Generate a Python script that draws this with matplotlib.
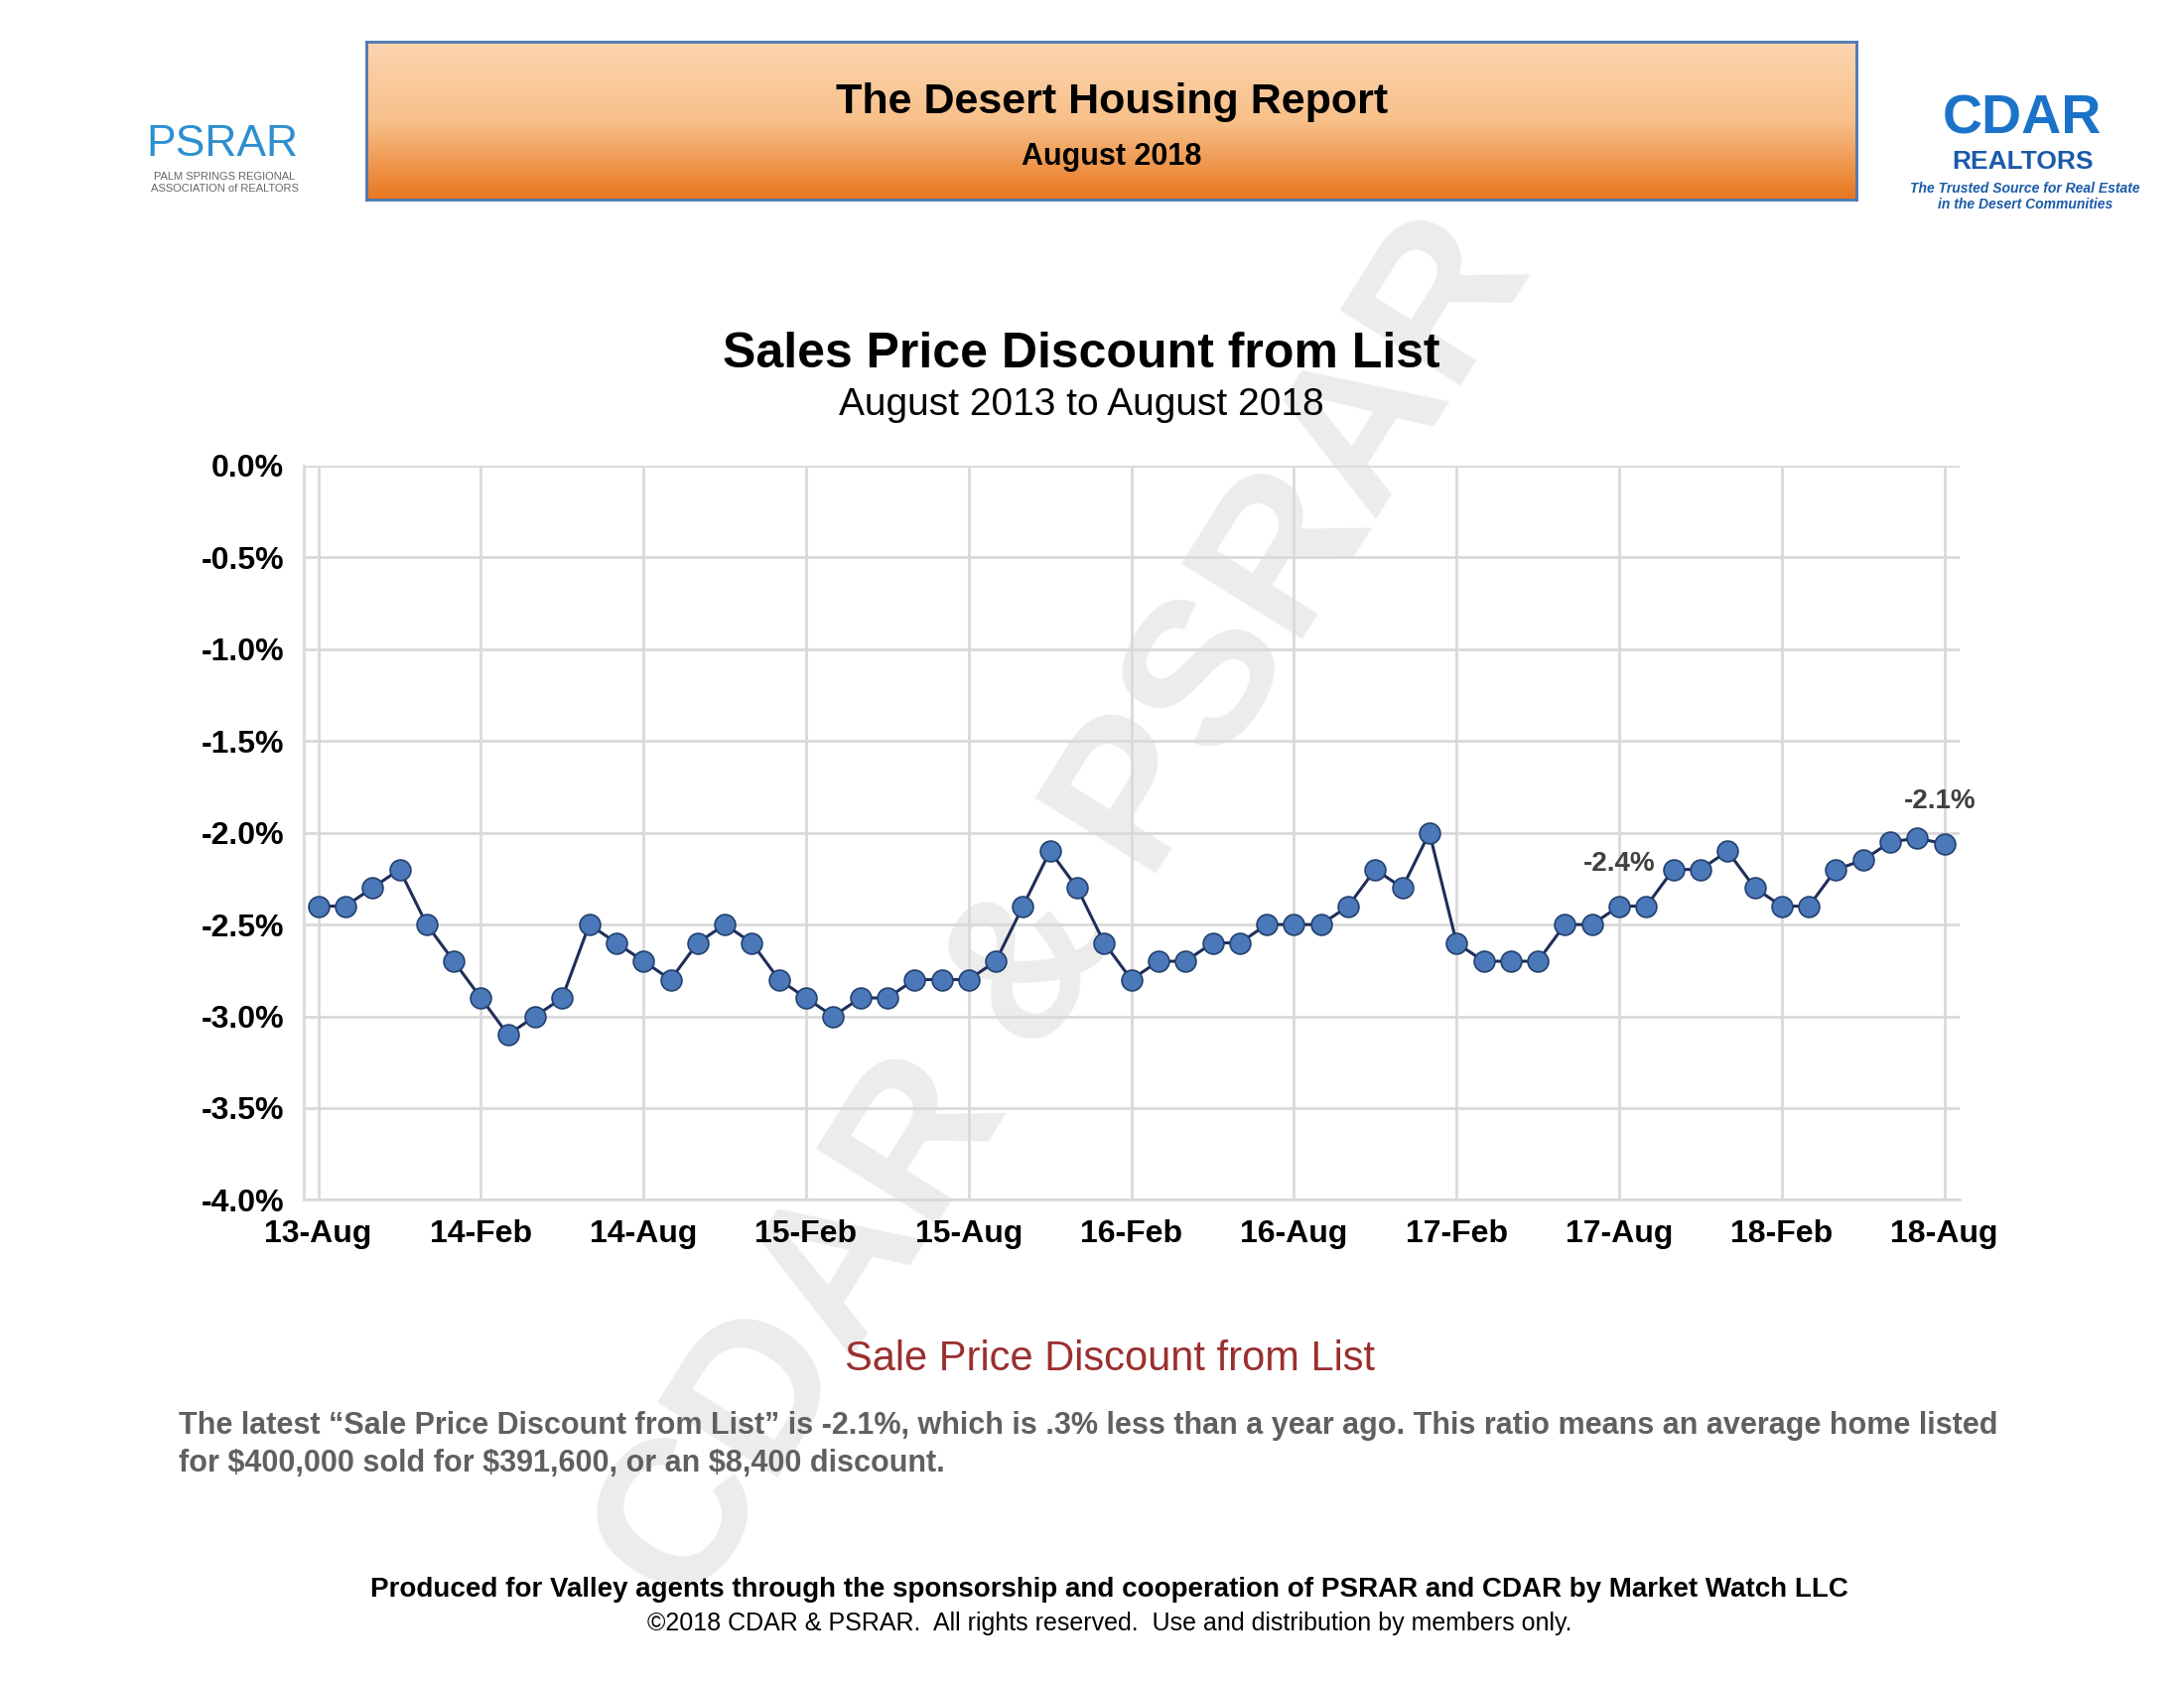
import numpy as np
import matplotlib
matplotlib.use("Agg")
import matplotlib.pyplot as plt
from matplotlib.colors import LinearSegmentedColormap

plt.rcParams["font.family"] = "Liberation Sans"

months = list(range(61))
values = [-2.4, -2.4, -2.3, -2.2, -2.5,
          -2.7, -2.9, -3.1, -3.0, -2.9, -2.5, -2.6, -2.7, -2.8, -2.6, -2.5, -2.6,
          -2.8, -2.9, -3.0, -2.9, -2.9, -2.8, -2.8, -2.8, -2.7, -2.4, -2.1, -2.3,
          -2.6, -2.8, -2.7, -2.7, -2.6, -2.6, -2.5, -2.5, -2.5, -2.4, -2.2, -2.3,
          -2.0, -2.6, -2.7, -2.7, -2.7, -2.5, -2.5, -2.4, -2.4, -2.2, -2.2, -2.1,
          -2.3, -2.4, -2.4, -2.2, -2.15, -2.05, -2.03, -2.06]
tick_pos = [0, 6, 12, 18, 24, 30, 36, 42, 48, 54, 60]
tick_labels = ["13-Aug", "14-Feb", "14-Aug", "15-Feb", "15-Aug", "16-Feb",
               "16-Aug", "17-Feb", "17-Aug", "18-Feb", "18-Aug"]
y_ticks = [0.0, -0.5, -1.0, -1.5, -2.0, -2.5, -3.0, -3.5, -4.0]

W, H = 1555, 1200
fig = plt.figure(figsize=(22, 17), dpi=100)
fx = lambda x: x / W
fy = lambda y: 1 - y / H

# watermark
fig.text(fx(760), fy(650), "CDAR & PSRAR", rotation=58, fontsize=150, color="#ececec",
         ha="center", va="center", fontweight="bold", zorder=0)

# header gradient box
hax = fig.add_axes([fx(261), fy(142), fx(1322) - fx(261), (142 - 30) / H])
hax.set_zorder(3)
grad = np.linspace(0, 1, 256)[:, None]
cm = LinearSegmentedColormap.from_list("o", ["#fcd5b0", "#f8c08a", "#e8761e"])
hax.imshow(grad, aspect="auto", cmap=cm, extent=[0, 1, 0, 1])
hax.set_xticks([]); hax.set_yticks([])
for s in hax.spines.values():
    s.set_color("#4a78b0"); s.set_linewidth(2)
hax.text(0.5, 0.62, "The Desert Housing Report", ha="center", va="center", fontsize=31, fontweight="bold")
hax.text(0.5, 0.27, "August 2018", ha="center", va="center", fontsize=22, fontweight="bold")

# logos (approximate text)
fig.text(fx(158), fy(103), "PSRAR", fontsize=32, color="#2e8fd0", ha="center", va="center")
fig.text(fx(160), fy(130), "PALM SPRINGS REGIONAL\nASSOCIATION of REALTORS", fontsize=8, color="#666", ha="center", va="center")
fig.text(fx(1440), fy(85), "CDAR", fontsize=40, color="#1a73c9", fontweight="bold", ha="center", va="center")
fig.text(fx(1440), fy(115), "REALTORS", fontsize=19, color="#1a5aa8", fontweight="bold", ha="center", va="center")
fig.text(fx(1442), fy(140), "The Trusted Source for Real Estate\nin the Desert Communities", fontsize=10,
         color="#1a5aa8", style="italic", fontweight="bold", ha="center", va="center")

fig.text(fx(770), fy(252), "Sales Price Discount from List", ha="center", va="center", fontsize=36, fontweight="bold")
fig.text(fx(770), fy(288), "August 2013 to August 2018", ha="center", va="center", fontsize=28)

ax = fig.add_axes([fx(216), fy(853), fx(1395) - fx(216), (853 - 331) / H])
ax.set_zorder(2)
ax.patch.set_alpha(0)
ax.plot(months, values, color="#1f2d5a", lw=2.2, marker="o", ms=15,
        markerfacecolor="#4a78b8", markeredgecolor="#23406e", markeredgewidth=1.2, zorder=3)
ax.set_xlim(-0.55, 60.55)
ax.set_ylim(-4.0, 0.0)
ax.set_yticks(y_ticks)
ax.set_yticklabels([f"{v:.1f}%" for v in y_ticks], fontsize=23, fontweight="bold")
ax.set_xticks(tick_pos)
ax.set_xticklabels(tick_labels, fontsize=23, fontweight="bold")
ax.grid(True, color="#d9d9d9", lw=2)
ax.tick_params(length=0, pad=14)
for s in ["top", "right"]:
    ax.spines[s].set_visible(False)
ax.spines["left"].set_color("#d9d9d9"); ax.spines["bottom"].set_color("#d9d9d9")
ax.spines["left"].set_linewidth(2); ax.spines["bottom"].set_linewidth(2)
ax.set_axisbelow(True)
ax.annotate(f"{values[48]:.1f}%", (months[48], values[48]), xytext=(0, 26), textcoords="offset points",
            ha="center", fontsize=20, fontweight="bold", color="#404040")
ax.annotate(f"{values[60]:.1f}%", (months[60], values[60]), xytext=(-3, 26), textcoords="offset points",
            ha="center", fontsize=20, fontweight="bold", color="#404040")

fig.text(fx(790), fy(966), "Sale Price Discount from List", ha="center", va="center", fontsize=30, color="#9b2f2f")
fig.text(fx(127), fy(1027), "The latest \u201cSale Price Discount from List\u201d is -2.1%, which is .3% less than a year ago. This ratio means an average home listed\nfor $400,000 sold for $391,600, or an $8,400 discount.",
         ha="left", va="center", fontsize=22, fontweight="bold", color="#606060", linespacing=1.35)
fig.text(fx(790), fy(1130), "Produced for Valley agents through the sponsorship and cooperation of PSRAR and CDAR by Market Watch LLC",
         ha="center", va="center", fontsize=20, fontweight="bold")
fig.text(fx(790), fy(1154), "\u00a92018 CDAR & PSRAR.  All rights reserved.  Use and distribution by members only.",
         ha="center", va="center", fontsize=18)

fig.savefig("out.png", dpi=100)
